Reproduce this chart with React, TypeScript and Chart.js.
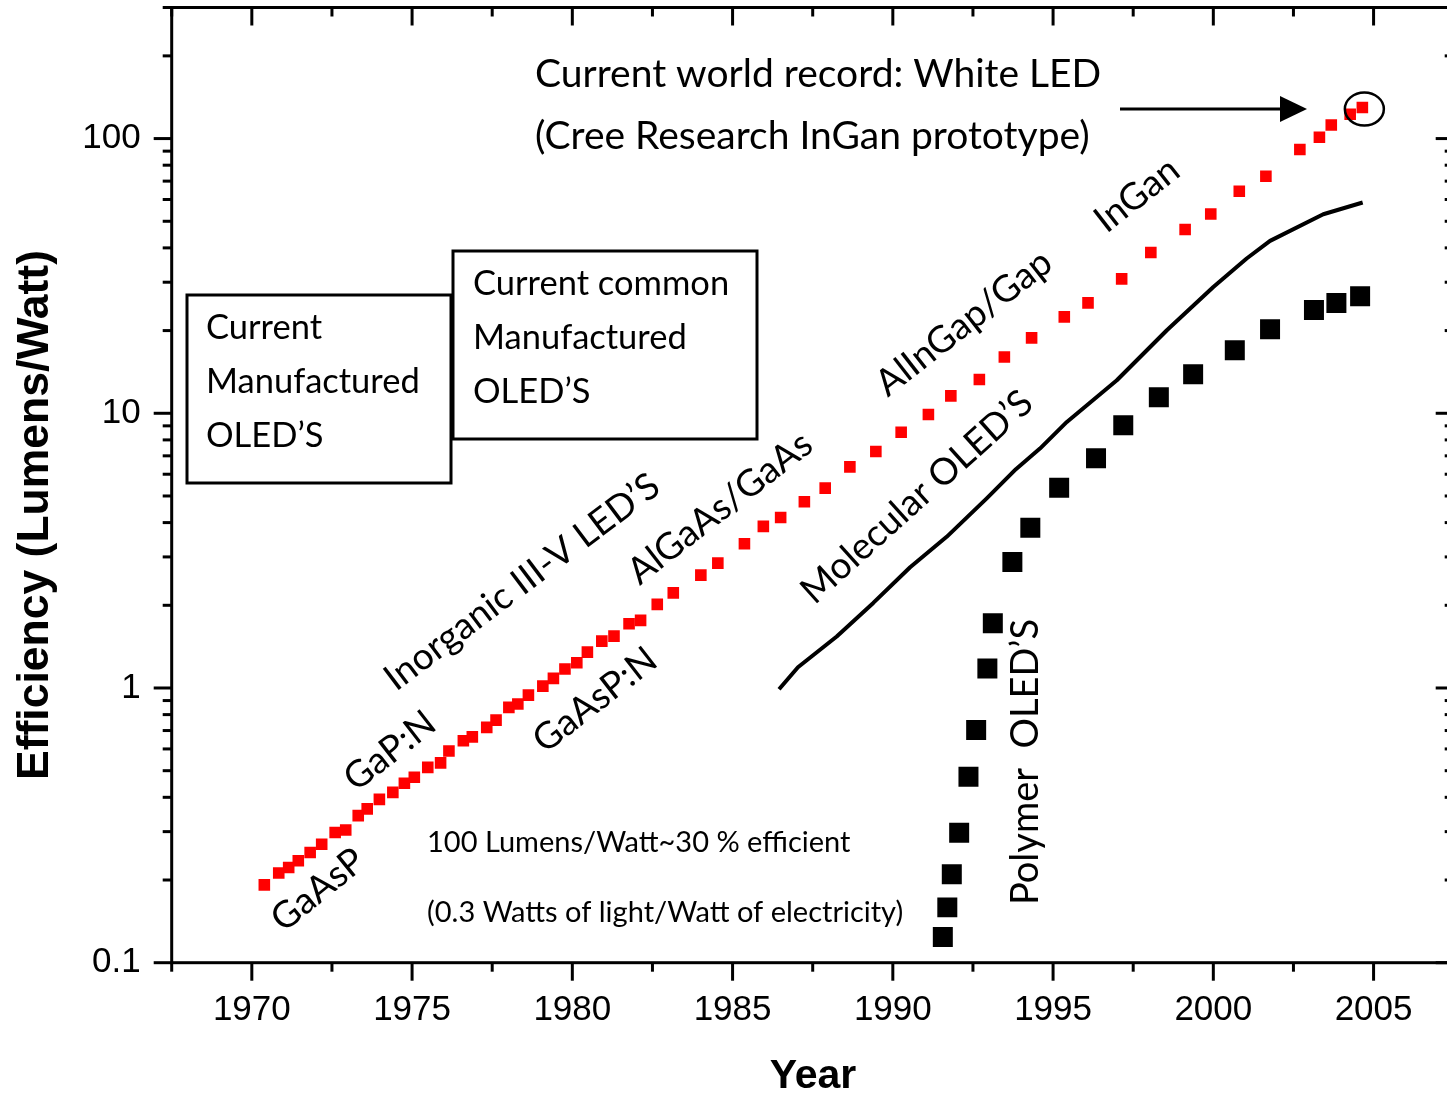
import React, { useEffect, useRef } from "react";
import { Chart, registerables } from "chart.js";

Chart.register(...registerables);

// Inorganic III-V LEDs (red squares)
const inorganicYears = [
  1970.39, 1970.84, 1971.15, 1971.45, 1971.82, 1972.18, 1972.6, 1972.93, 1973.32, 1973.6,
  1973.98, 1974.4, 1974.76, 1975.07, 1975.49, 1975.89, 1976.15, 1976.6, 1976.88, 1977.33,
  1977.62, 1978.02, 1978.3, 1978.63, 1979.08, 1979.41, 1979.77, 1980.14, 1980.47, 1980.92,
  1981.3, 1981.77, 1982.13, 1982.65, 1983.15, 1984.01, 1984.54, 1985.37, 1985.96, 1986.5,
  1987.24, 1987.89, 1988.66, 1989.47, 1990.26, 1991.11, 1991.81, 1992.7, 1993.48, 1994.33,
  1995.35, 1996.09, 1997.14, 1998.05, 1999.12, 1999.92, 2000.81, 2001.64, 2002.7, 2003.31,
  2003.68, 2004.27, 2004.65,
];
const inorganicEfficiency = [
  0.192, 0.212, 0.222, 0.235, 0.252, 0.27, 0.298, 0.304, 0.343, 0.363,
  0.393, 0.417, 0.45, 0.473, 0.514, 0.534, 0.59, 0.643, 0.664, 0.719,
  0.764, 0.85, 0.874, 0.942, 1.016, 1.084, 1.172, 1.235, 1.351, 1.481,
  1.545, 1.713, 1.762, 2.015, 2.22, 2.575, 2.848, 3.348, 3.874, 4.177,
  4.761, 5.339, 6.38, 7.26, 8.53, 9.9, 11.57, 13.27, 16.03, 18.81,
  22.43, 25.22, 30.84, 38.48, 46.66, 53.15, 64.31, 72.93, 91.2, 101.1,
  112.1, 122.6, 129.7,
];

// Polymer OLEDs (black squares)
const polymerYears = [
  1991.56, 1991.7, 1991.84, 1992.07, 1992.36, 1992.6, 1992.95, 1993.12, 1993.73, 1994.29,
  1995.19, 1996.34, 1997.19, 1998.3, 1999.37, 2000.67, 2001.77, 2003.14, 2003.84, 2004.58,
];
const polymerEfficiency = [
  0.124, 0.159, 0.21, 0.297, 0.475, 0.703, 1.178, 1.719, 2.872, 3.828,
  5.352, 6.864, 9.05, 11.44, 13.88, 16.96, 20.23, 23.78, 25.22, 26.68,
];

// Molecular OLEDs (solid line)
const molecularYears = [
  1986.45, 1987.04, 1988.25, 1989.39, 1990.54, 1991.68, 1992.93, 1993.84, 1994.59,
  1995.43, 1996.99, 1998.55, 2000.0, 2001.04, 2001.77, 2003.43, 2004.66,
];
const molecularEfficiency = [
  0.99, 1.19, 1.54, 2.04, 2.75, 3.55, 4.9, 6.26, 7.44,
  9.3, 13.19, 20.06, 28.84, 36.59, 42.41, 53.03, 58.5,
];

// Axes
const xRange = [1967.5, 2007.5];
const yRange = [0.1, 300];
const xMajorTicks = [1970, 1975, 1980, 1985, 1990, 1995, 2000, 2005];
const xMinorTicks = [1967.5, 1972.5, 1977.5, 1982.5, 1987.5, 1992.5, 1997.5, 2002.5, 2007.5];
const yMajorTicks = [0.1, 1, 10, 100];
const yMajorLabels = ["0.1", "1", "10", "100"];
const yMinorTicks = [
  0.2, 0.3, 0.4, 0.5, 0.6, 0.7, 0.8, 0.9,
  2, 3, 4, 5, 6, 7, 8, 9,
  20, 30, 40, 50, 60, 70, 80, 90,
  200, 300,
];

const xTitle = "Year";
const yTitle = "Efficiency (Lumens/Watt)";

const CANVAS_W = 1470;
const CANVAS_H = 1095;

const ARIAL = "'Liberation Sans', Arial, sans-serif";
const NOTE = "Lato, 'Open Sans', sans-serif";

type Pt = { x: number; y: number };
const toPoints = (xs: number[], ys: number[]): Pt[] => xs.map((x, i) => ({ x, y: ys[i] }));

const decorations = {
  id: "decorations",
  afterDraw(chart: any) {
    const { ctx, chartArea: a, scales } = chart;
    const xs = scales.x;
    const ys = scales.y;
    const MAJOR = 18;
    const MINOR = 9;
    ctx.save();
    ctx.strokeStyle = "#000";
    ctx.fillStyle = "#000";
    ctx.lineCap = "butt";

    // frame
    ctx.lineWidth = 3;
    ctx.strokeRect(a.left, a.top, a.right - a.left, a.bottom - a.top);

    const seg = (x1: number, y1: number, x2: number, y2: number) => {
      ctx.beginPath();
      ctx.moveTo(x1, y1);
      ctx.lineTo(x2, y2);
      ctx.stroke();
    };

    // x ticks: outward on bottom, inward on top
    ctx.lineWidth = 3;
    xMajorTicks.forEach((v) => {
      const px = xs.getPixelForValue(v);
      seg(px, a.bottom, px, a.bottom + MAJOR);
      seg(px, a.top, px, a.top + MAJOR);
    });
    xMinorTicks.forEach((v) => {
      const px = xs.getPixelForValue(v);
      seg(px, a.bottom, px, a.bottom + MINOR);
      seg(px, a.top, px, a.top + MINOR);
    });
    // y ticks: outward on left, inward on right
    yMajorTicks.forEach((v) => {
      const py = ys.getPixelForValue(v);
      seg(a.left - MAJOR, py, a.left, py);
      seg(a.right - MAJOR, py, a.right, py);
    });
    yMinorTicks.forEach((v) => {
      const py = ys.getPixelForValue(v);
      seg(a.left - MINOR, py, a.left, py);
      seg(a.right - MINOR, py, a.right, py);
    });

    // tick labels
    ctx.font = `35px ${ARIAL}`;
    ctx.textAlign = "center";
    ctx.textBaseline = "middle";
    xMajorTicks.forEach((v) => {
      ctx.fillText(String(v), xs.getPixelForValue(v), a.bottom + 48);
    });
    ctx.textAlign = "right";
    yMajorTicks.forEach((v, i) => {
      ctx.fillText(yMajorLabels[i], a.left - MAJOR - 13, ys.getPixelForValue(v));
    });

    // axis titles
    ctx.font = `bold 41px ${ARIAL}`;
    ctx.textAlign = "center";
    ctx.fillText(xTitle, 813, 1077);
    ctx.save();
    ctx.translate(36, 515);
    ctx.rotate(-Math.PI / 2);
    ctx.font = `bold 44.5px ${ARIAL}`;
    ctx.fillText(yTitle, 0, 0);
    ctx.restore();

    // record call-out
    ctx.font = `39px ${NOTE}`;
    ctx.textAlign = "left";
    ctx.fillText("Current world record: White LED", 535, 74);
    ctx.fillText("(Cree Research InGan prototype)", 535, 136);

    ctx.lineWidth = 3;
    seg(1120, 109, 1284, 109);
    ctx.beginPath();
    ctx.moveTo(1280, 96);
    ctx.lineTo(1307, 109);
    ctx.lineTo(1280, 122);
    ctx.closePath();
    ctx.fill();

    const lastX = xs.getPixelForValue(inorganicYears[inorganicYears.length - 1]);
    const lastY = ys.getPixelForValue(inorganicEfficiency[inorganicEfficiency.length - 1]);
    ctx.lineWidth = 2.5;
    ctx.beginPath();
    ctx.ellipse(lastX + 2, lastY + 1.5, 19.5, 16.5, 0, 0, Math.PI * 2);
    ctx.stroke();

    // boxed notes
    ctx.lineWidth = 3;
    ctx.fillStyle = "#fff";
    ctx.fillRect(187, 295, 264, 188);
    ctx.strokeRect(187, 295, 264, 188);
    ctx.fillRect(453, 251, 304, 188);
    ctx.strokeRect(453, 251, 304, 188);
    ctx.fillStyle = "#000";
    ctx.font = `34.5px ${NOTE}`;
    ctx.textAlign = "left";
    ["Current", "Manufactured", "OLED\u2019S"].forEach((t, i) => ctx.fillText(t, 206, 328 + i * 54));
    ["Current common", "Manufactured", "OLED\u2019S"].forEach((t, i) => ctx.fillText(t, 473, 284 + i * 54));

    // efficiency note
    ctx.font = `29px ${NOTE}`;
    ctx.fillText("100 Lumens/Watt~30 % efficient", 427, 843);
    ctx.fillText("(0.3 Watts of light/Watt of electricity)", 427, 913);

    // slanted series labels
    const slanted: [string, number, number, number, number][] = [
      ["GaAsP", 318, 890, -39, 37],
      ["GaP:N", 390, 751, -38, 37],
      ["Inorganic III-V LED\u2019S", 522, 582, -37, 37],
      ["GaAsP:N", 595, 700, -38, 37],
      ["AlGaAs/GaAs", 720, 508, -38, 37],
      ["Molecular OLED\u2019S", 917, 497, -42, 37],
      ["AlInGap/Gap", 964, 323, -38, 37],
      ["InGan", 1137, 195, -38, 37],
      ["Polymer  OLED\u2019S", 1026, 762, -90, 38],
    ];
    ctx.textAlign = "center";
    slanted.forEach(([t, x, y, deg, size]) => {
      ctx.save();
      ctx.translate(x, y);
      ctx.rotate((deg * Math.PI) / 180);
      ctx.font = `${size}px ${NOTE}`;
      ctx.fillText(t, 0, 0);
      ctx.restore();
    });

    ctx.restore();
  },
};

export default function App() {
  const ref = useRef<HTMLCanvasElement | null>(null);

  useEffect(() => {
    if (!ref.current) return;
    const chart = new Chart(ref.current, {
      type: "scatter",
      data: {
        datasets: [
          {
            label: "Molecular OLED's",
            data: toPoints(molecularYears, molecularEfficiency),
            showLine: true,
            borderColor: "#000",
            borderWidth: 4,
            tension: 0,
            pointRadius: 0,
            borderJoinStyle: "round",
          } as any,
          {
            label: "Polymer OLED's",
            data: toPoints(polymerYears, polymerEfficiency),
            pointStyle: "rect",
            pointRadius: 14.14,
            pointBorderWidth: 0,
            backgroundColor: "#000",
            borderColor: "#000",
          },
          {
            label: "Inorganic III-V LED's",
            data: toPoints(inorganicYears, inorganicEfficiency),
            pointStyle: "rect",
            pointRadius: 8.2,
            pointBorderWidth: 0,
            backgroundColor: "#ff0000",
            borderColor: "#ff0000",
          },
        ],
      },
      options: {
        responsive: false,
        animation: false,
        devicePixelRatio: 1,
        layout: {
          autoPadding: false,
          padding: { left: 171.7, right: CANVAS_W - 1453.7, top: 7.5, bottom: CANVAS_H - 962.7 },
        },
        plugins: { legend: { display: false }, tooltip: { enabled: false } },
        scales: {
          x: { type: "linear", min: xRange[0], max: xRange[1], display: false },
          y: { type: "logarithmic", min: yRange[0], max: yRange[1], display: false },
        },
      },
      plugins: [decorations],
    });
    return () => chart.destroy();
  }, []);

  return (
    <div
      style={{
        position: "fixed",
        left: 0,
        top: 0,
        width: 1447,
        height: 1095,
        overflow: "hidden",
        background: "#fff",
      }}
    >
      <canvas ref={ref} width={CANVAS_W} height={CANVAS_H} style={{ width: CANVAS_W, height: CANVAS_H, display: "block" }} />
    </div>
  );
}
